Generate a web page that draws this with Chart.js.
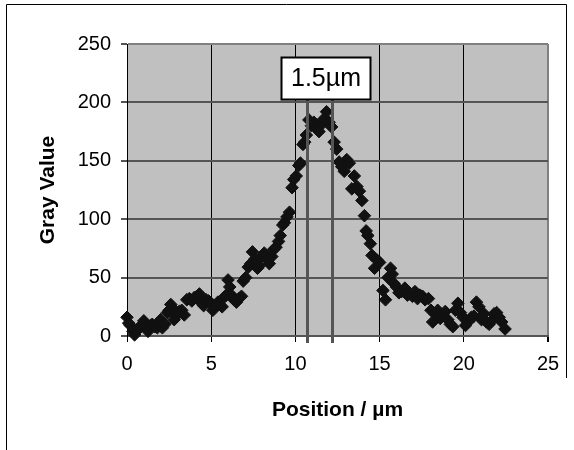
<!DOCTYPE html>
<html>
<head>
<meta charset="utf-8">
<script src="https://cdn.jsdelivr.net/npm/chart.js@4/dist/chart.umd.min.js"></script>
<style>
  body { margin: 0; background: #fff; }
</style>
</head>
<body>
<canvas id="profileChart" width="574" height="450"></canvas>
<script>
// line profile
const positions = [
  0.0, 0.1, 0.2, 0.35, 0.45, 0.6, 0.75, 0.9, 1.0, 1.1, 1.25, 1.4, 1.5, 1.65, 1.8, 1.9,
  2.0, 2.1, 2.25, 2.4, 2.5, 2.6, 2.7, 2.8, 2.9, 3.0, 3.1, 3.25, 3.4, 3.55, 3.7, 3.85,
  4.0, 4.15, 4.3, 4.45, 4.55, 4.7, 4.85, 5.0, 5.1, 5.25, 5.4, 5.5, 5.65, 5.75, 5.9,
  6.0, 6.1, 6.2, 6.35, 6.5, 6.65, 6.8, 6.9, 7.05, 7.2, 7.35, 7.45, 7.6, 7.75, 7.85,
  8.0, 8.15, 8.3, 8.45, 8.6, 8.7, 8.85, 9.0, 9.1, 9.25, 9.35, 9.5, 9.65, 9.8, 9.9,
  10.05, 10.2, 10.3, 10.45, 10.55, 10.65, 10.8, 10.95, 11.1, 11.25, 11.4, 11.55, 11.7, 11.85,
  12.0, 12.15, 12.3, 12.45, 12.6, 12.75, 12.9, 13.05, 13.2, 13.35, 13.5, 13.65, 13.8, 13.95,
  14.1, 14.2, 14.3, 14.45, 14.55, 14.7, 14.85, 15.0, 15.2, 15.35, 15.5, 15.65, 15.75, 15.85,
  16.0, 16.15, 16.3, 16.5, 16.65, 16.8, 16.95, 17.1, 17.25, 17.4, 17.55, 17.7, 17.9,
  18.05, 18.15, 18.3, 18.45, 18.6, 18.75, 18.9, 19.05, 19.2, 19.35, 19.5, 19.65, 19.8, 19.95,
  20.1, 20.25, 20.45, 20.6, 20.75, 20.9, 21.05, 21.2, 21.35, 21.5, 21.65, 21.8, 21.95,
  22.1, 22.25, 22.45
];
const grayValues = [
  16, 11, 9, 4, 1, 5, 7, 10, 13, 8, 4, 9, 10, 8, 7, 11,
  14, 7, 10, 20, 22, 27, 24, 14, 17, 19, 21, 22, 18, 31, 32, 30,
  33, 34, 36, 28, 26, 31, 30, 28, 22, 26, 29, 27, 25, 33, 35,
  48, 42, 35, 31, 29, 32, 34, 47, 50, 59, 62, 72, 66, 58, 60,
  68, 71, 66, 62, 68, 74, 76, 81, 86, 95, 97, 102, 106, 127, 134,
  137, 146, 148, 164, 166, 172, 185, 180, 183, 178, 175, 181, 186, 192,
  183, 179, 166, 160, 149, 145, 141, 151, 148, 126, 137, 128, 124, 116,
  103, 90, 86, 79, 69, 58, 65, 63, 39, 31, 50, 58, 53, 45,
  42, 37, 38, 41, 35, 36, 34, 38, 32, 35, 34, 31, 32,
  22, 12, 19, 22, 15, 17, 21, 14, 10, 8, 22, 28, 20, 16,
  9, 12, 16, 17, 29, 25, 14, 19, 12, 10, 13, 19, 20,
  16, 12, 6
];
const xTicks = [0, 5, 10, 15, 20, 25];
const yTicks = [0, 50, 100, 150, 200, 250];
const widthMarks = [10.7, 12.2];
const widthLabel = "1.5µm";

const points = positions.map((x, i) => ({ x: x, y: grayValues[i] }));

////////////////////////////////
// plot background, frame and the width annotation
////////////////////////////////
const plotDecor = {
  id: "plotDecor",
  beforeDraw(chart) {
    const { ctx, chartArea: a } = chart;
    ctx.save();
    ctx.fillStyle = "#c0c0c0";
    ctx.fillRect(a.left, a.top, a.right - a.left, a.bottom - a.top);
    ctx.restore();
  },
  afterDraw(chart) {
    const { ctx, scales } = chart;
    const xs = scales.x, ys = scales.y;
    ctx.save();

    // marker lines
    ctx.strokeStyle = "#555";
    ctx.lineWidth = 3;
    widthMarks.forEach(function (m) {
      const px = Math.round(xs.getPixelForValue(m)) + 0.5;
      ctx.beginPath();
      ctx.moveTo(px, ys.getPixelForValue(205));
      ctx.lineTo(px, ys.getPixelForValue(-6));
      ctx.stroke();
    });

    // label box
    const bx = 281.5, by = 57.5, bw = 89, bh = 42;
    ctx.fillStyle = "#fff";
    ctx.fillRect(bx, by, bw, bh);
    ctx.strokeStyle = "#000";
    ctx.lineWidth = 2;
    ctx.strokeRect(bx, by, bw, bh);
    ctx.fillStyle = "#000";
    ctx.font = "25px 'Liberation Sans', Arial, sans-serif";
    ctx.textAlign = "center";
    ctx.textBaseline = "middle";
    ctx.fillText(widthLabel, bx + bw / 2, by + bh / 2 + 1);

    // outer chart frame
    ctx.strokeStyle = "#000";
    ctx.lineWidth = 1;
    ctx.beginPath();
    ctx.moveTo(6.5, 450);
    ctx.lineTo(6.5, 4.5);
    ctx.lineTo(566.5, 4.5);
    ctx.lineTo(566.5, 378);
    ctx.stroke();
    ctx.restore();
  }
};

new Chart(document.getElementById("profileChart"), {
  type: "scatter",
  data: {
    datasets: [
      {
        data: points,
        pointStyle: "rectRot",
        pointRadius: 6.3,
        pointBackgroundColor: "#111",
        pointBorderColor: "#111",
        pointBorderWidth: 1,
        clip: false,
      },
    ],
  },
  options: {
    responsive: false,
    animation: false,
    layout: {
      padding: { left: 0, top: 44, right: 26, bottom: 0 },
    },
    plugins: {
      legend: { display: false },
      tooltip: { enabled: false },
    },
    scales: {
      x: {
        type: "linear",
        min: 0,
        max: 25,
        afterBuildTicks: (s) => { s.ticks = xTicks.map(v => ({ value: v })); },
        afterFit: (s) => { s.height = 114; },
        ticks: {
          color: "#000",
          padding: 10,
          font: { size: 20, family: "'Liberation Sans', Arial, sans-serif" },
        },
        grid: {
          color: (c) => (c.tick && c.tick.value === 25 ? "#808080" : "#000"),
          lineWidth: (c) => (c.tick && c.tick.value === 25 ? 2 : 1),
          tickColor: "#000",
          tickLength: 6,
        },
        border: { color: "#555", width: 2 },
        title: {
          display: true,
          text: "Position / µm",
          color: "#000",
          font: { size: 21, weight: "bold", family: "'Liberation Sans', Arial, sans-serif" },
          padding: { top: 0, bottom: 27 },
        },
      },
      y: {
        type: "linear",
        min: 0,
        max: 250,
        afterBuildTicks: (s) => { s.ticks = yTicks.map(v => ({ value: v })); },
        afterFit: (s) => { s.width = 127; },
        ticks: {
          color: "#000",
          padding: 10,
          font: { size: 20, family: "'Liberation Sans', Arial, sans-serif" },
        },
        grid: {
          color: (c) => (c.tick && c.tick.value === 250 ? "#808080" : "#555"),
          lineWidth: 2,
          tickColor: "#555",
          tickLength: 6,
        },
        border: { color: "#000", width: 1 },
        title: {
          display: true,
          text: "Gray Value",
          color: "#000",
          font: { size: 21, weight: "bold", family: "'Liberation Sans', Arial, sans-serif" },
          padding: { top: 36, bottom: 0 },
        },
      },
    },
  },
  plugins: [plotDecor],
});
</script>
</body>
</html>
